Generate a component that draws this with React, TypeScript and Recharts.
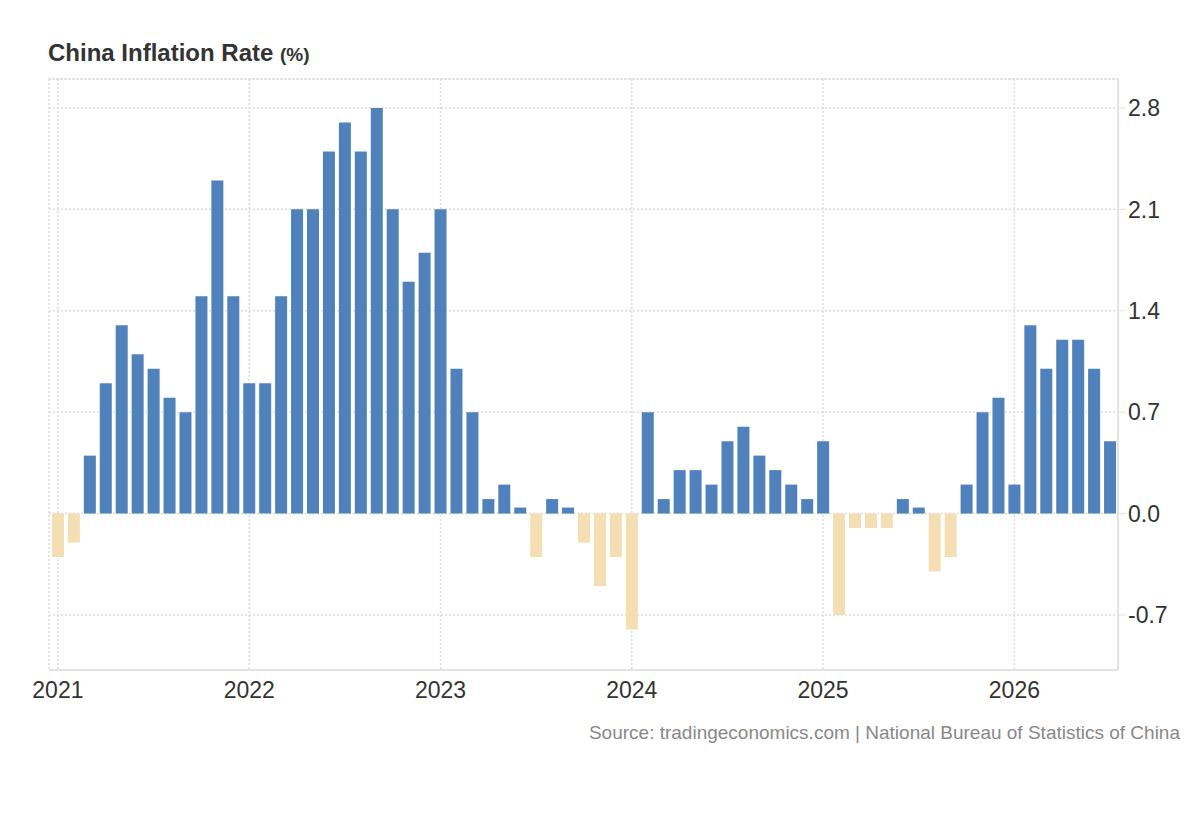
import {
  BarChart,
  Bar,
  Cell,
  XAxis,
  YAxis,
  CartesianGrid,
  ReferenceLine,
} from "recharts";

const startYear = 2021;
const yearTicks = ["2021", "2022", "2023", "2024", "2025", "2026"];
const yTicks = [-0.7, 0, 0.7, 1.4, 2.1, 2.8];

// monthly CPI y/y, Jan 2021 .. Jul 2026
const cpi2021 = [-0.3, -0.2, 0.4, 0.9, 1.3, 1.1, 1.0, 0.8, 0.7, 1.5, 2.3, 1.5];
const cpi2022 = [0.9, 0.9, 1.5, 2.1, 2.1, 2.5, 2.7, 2.5, 2.8, 2.1, 1.6, 1.8];
const cpi2023 = [2.1, 1.0, 0.7, 0.1, 0.2, 0.0, -0.3, 0.1, 0.0, -0.2, -0.5, -0.3];
const cpi2024 = [-0.8, 0.7, 0.1, 0.3, 0.3, 0.2, 0.5, 0.6, 0.4, 0.3, 0.2, 0.1];
const cpi2025 = [0.5, -0.7, -0.1, -0.1, -0.1, 0.1, 0.0, -0.4, -0.3, 0.2, 0.7, 0.8];
const cpi2026 = [0.2, 1.3, 1.0, 1.2, 1.2, 1.0, 0.5];

const values = [...cpi2021, ...cpi2022, ...cpi2023, ...cpi2024, ...cpi2025, ...cpi2026];

const colors = {
  up: "#4F81BD",
  down: "#F5DEB3",
  grid: "#dcdcdc",
  axis: "#e3e3e3",
  text: "#333333",
  source: "#888888",
};

const data = values.map((v, i) => ({
  idx: i,
  month: `${startYear + Math.floor(i / 12)}-${String((i % 12) + 1).padStart(2, "0")}`,
  value: v,
}));

const xTicks = yearTicks.map((_, i) => i * 12);
const yDomain: [number, number] = [-1.08, 3.0];
const font = "'Liberation Sans', Arial, Helvetica, sans-serif";

export default function App() {
  return (
    <div
      style={{
        position: "absolute",
        left: 0,
        top: 0,
        width: 1200,
        height: 820,
        background: "#fff",
        fontFamily: font,
      }}
    >
      <div
        style={{
          position: "absolute",
          left: 48,
          top: 41,
          fontSize: 24,
          lineHeight: 1,
          fontWeight: "bold",
          color: colors.text,
        }}
      >
        China Inflation Rate <span style={{ fontSize: 19 }}>(%)</span>
      </div>
      <BarChart
        width={1200}
        height={820}
        data={data}
        margin={{ top: 79, right: 20, bottom: 110, left: 49 }}
        style={{ fontFamily: font }}
      >
        <CartesianGrid
          stroke={colors.grid}
          strokeDasharray="2 2"
          strokeWidth={1.5}
        />
        <ReferenceLine
          y={yDomain[1]}
          stroke={colors.grid}
          strokeDasharray="2 2"
          strokeWidth={1.5}
        />
        <XAxis
          dataKey="idx"
          type="number"
          domain={[-0.56, 66.5]}
          allowDataOverflow
          ticks={xTicks}
          tickFormatter={(v: number) => yearTicks[v / 12]}
          tickLine={false}
          axisLine={{ stroke: colors.axis, strokeWidth: 2 }}
          tick={{ fill: colors.text, fontSize: 23 }}
          tickMargin={6}
          height={40}
        />
        <YAxis
          orientation="right"
          domain={yDomain}
          allowDataOverflow
          ticks={yTicks}
          tickFormatter={(v: number) => v.toFixed(1)}
          axisLine={{ stroke: colors.axis, strokeWidth: 2 }}
          tickLine={{ stroke: colors.axis }}
          tickSize={8}
          tickMargin={2}
          tick={{ fill: colors.text, fontSize: 23 }}
          width={62}
        />
        <YAxis
          yAxisId="left"
          orientation="left"
          domain={yDomain}
          allowDataOverflow
          tick={false}
          tickLine={false}
          axisLine={{ stroke: colors.axis, strokeWidth: 2 }}
          width={0}
        />
        <Bar dataKey="value" barSize={12} minPointSize={6} isAnimationActive={false}>
          {data.map((d) => (
            <Cell key={d.month} fill={d.value >= 0 ? colors.up : colors.down} />
          ))}
        </Bar>
      </BarChart>
      <div
        style={{
          position: "absolute",
          right: 20,
          top: 723,
          fontSize: 19,
          lineHeight: 1,
          color: colors.source,
        }}
      >
        Source: tradingeconomics.com | National Bureau of Statistics of China
      </div>
    </div>
  );
}
